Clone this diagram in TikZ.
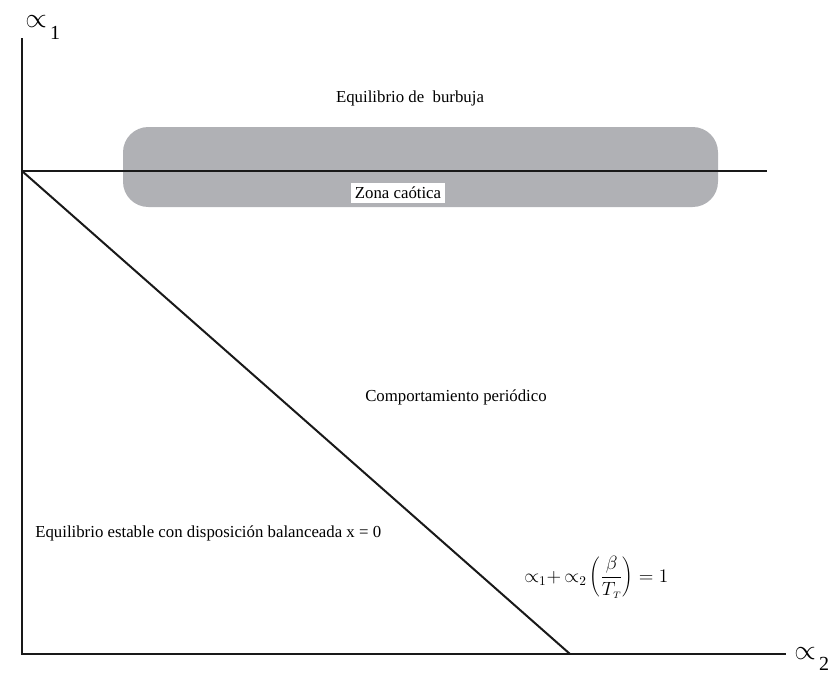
\documentclass[tikz,border=0pt]{standalone}
\usepackage{fontspec}
\setmainfont{Liberation Serif}
\usepackage{tikz}
\usetikzlibrary{calc}
\definecolor{grisbanda}{RGB}{176,177,181}

\begin{document}
\begin{tikzpicture}[
  x=0.75pt,y=-0.75pt,
  axis/.style={line width=1.8pt,black!90},
  border/.style={line width=1.5pt,black!90},
  zona/.style={fill=grisbanda,draw=none,rounded corners=19pt},
  lab/.style={font=\fontsize{12.6}{14}\selectfont,inner sep=0pt},
  axlab/.style={font=\fontsize{22}{24}\selectfont,inner sep=0pt,anchor=base west}
]
\useasboundingbox (0,0) rectangle (829,675);

% ---- zona caotica (banda gris) ----
\fill[zona] (123,127) rectangle (718,207);

% ---- ejes ----
\coordinate (O) at (22,654);
\coordinate (Ytop) at (22,38);
\coordinate (Xend) at (786,654);
\draw[axis] (Ytop) -- (O) -- (Xend);
\node[axlab] (a1) at (25,27) {$\propto$\raisebox{-0.95ex}{\fontsize{15}{17}\selectfont\,1}};
\node[axlab] (a2) at (794,659) {$\propto$\raisebox{-0.85ex}{\fontsize{15}{17}\selectfont\,2}};

% ---- fronteras ----
\coordinate (C) at (22,171);
\coordinate (Cend) at (767,171);
\coordinate (D) at (570,654);
\draw[border] (C) -- (Cend);
\draw[border] (C) -- (D);

% ---- textos ----
\node[lab,fill=white,inner xsep=3pt,inner ysep=3pt] (caos) at (398,193) {Zona caótica};
\node[lab] (burbuja) at (410,98) {Equilibrio de\ \ burbuja};
\node[lab] (periodico) at (456,397) {Comportamiento periódico};
\node[lab,anchor=west] (estable) at (35,533) {Equilibrio estable con disposición balanceada x = 0};
\node[anchor=west,inner sep=0pt,font=\fontsize{14.5}{16}\selectfont] (ecu) at (524,577)
  {$\displaystyle{\propto}_1{+}\,{\propto}_2\left(\frac{\beta}{T_{\scriptscriptstyle T}}\right) = 1$};

\end{tikzpicture}
\end{document}
